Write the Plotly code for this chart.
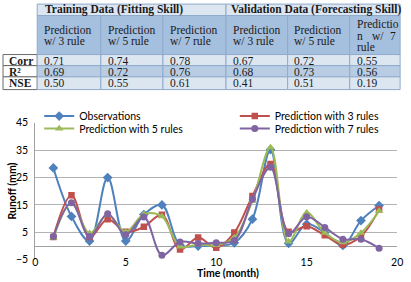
import plotly.graph_objects as go

W, H = 411, 282

# ---------------- data ----------------
months = list(range(1, 20))
observations = [28.5, 10.8, 1.8, 25.0, 1.8, 11.5, 15.0, 0.3, 0.0, 0.2, 1.2, 9.8, 35.2, 1.0, 8.0, 4.9, 0.2, 9.3, 14.8]
pred_3_rules = [3.3, 18.5, 3.3, 9.8, 5.2, 7.0, 11.4, -1.3, 3.1, -0.6, 4.9, 18.3, 30.0, 5.2, 7.2, 3.9, 0.5, 3.6, 13.3]
pred_5_rules = [3.0, 15.6, 4.7, 11.4, 5.2, 11.6, 10.8, -0.2, 0.6, 0.3, 3.0, 16.5, 36.0, 1.6, 12.2, 4.8, 1.3, 4.8, 12.8]
pred_7_rules = [3.5, 15.8, 3.5, 11.8, 4.1, 10.6, -3.4, 1.5, 0.9, 1.2, 2.0, 17.1, 28.8, 4.5, 10.7, 6.8, 2.5, 2.5, -0.8]

series_names = ["Observations", "Prediction with 3 rules", "Prediction with 5 rules", "Prediction with 7 rules"]

# table content
group_titles = ["Training Data (Fitting Skill)", "Validation Data (Forecasting Skill)"]
header_lines = [["Prediction", "w/ 3 rule"], ["Prediction", "w/ 5 rule"], ["Prediction", "w/ 7 rule"],
                ["Prediction", "w/ 3 rule"], ["Prediction", "w/ 5 rule"], None]
row_labels = ["Corr", "R²", "NSE"]
corr_vals = ["0.71", "0.74", "0.78", "0.67", "0.72", "0.55"]
r2_vals = ["0.69", "0.72", "0.76", "0.68", "0.73", "0.56"]
nse_vals = ["0.50", "0.55", "0.61", "0.41", "0.51", "0.19"]
table_rows = [corr_vals, r2_vals, nse_vals]


def px(x):
    return x / W


def py(y):
    return 1 - y / H


fig = go.Figure()

colors = ["#4F81BD", "#C0504D", "#9BBB59", "#8064A2"]
symbols = ["diamond", "square", "triangle-up", "circle"]
sizes = [7.5, 6.5, 7.5, 7]
legend_ids = ["legend", "legend2", "legend3", "legend4"]
for name, vals, c, s, sz, lg in zip(series_names, [observations, pred_3_rules, pred_5_rules, pred_7_rules],
                                    colors, symbols, sizes, legend_ids):
    fig.add_trace(go.Scatter(
        x=months, y=vals, name=name, mode="lines+markers", legend=lg,
        line=dict(color=c, width=2, shape="spline", smoothing=1.0),
        marker=dict(color=c, symbol=s, size=sz, line=dict(width=0)),
    ))

# ---------------- table drawn with shapes ----------------
shapes = []
annotations = []
col_edges = [0, 35, 100, 163.5, 228, 291, 354.5, 406]
row_edges = [-2, 10, 50.7, 62.3, 74, 87.3]
light = "#DCE6F1"
mid = "#B8CCE4"
head = "#A5BFDE"
border = "#8FAACB"


def rect(x0, y0, x1, y1, fill, line="rgba(0,0,0,0)", lw=1):
    shapes.append(dict(type="rect", xref="paper", yref="paper",
                       x0=px(x0), x1=px(x1), y0=py(y1), y1=py(y0),
                       fillcolor=fill, line=dict(color=line, width=lw), layer="below"))


def text(x, y, t, size=11.5, bold=False, anchor="left"):
    annotations.append(dict(xref="paper", yref="paper", x=px(x), y=py(y),
                            xanchor=anchor, yanchor="middle", showarrow=False,
                            borderpad=0,
                            text=("<b>%s</b>" % t) if bold else t,
                            font=dict(family="Liberation Serif", size=size, color="#1a1a1a")))


# title row
rect(col_edges[1], row_edges[0], col_edges[4], row_edges[1], light, border)
rect(col_edges[4], row_edges[0], col_edges[7], row_edges[1], light, border)
text(col_edges[1] + 7, 3.5, group_titles[0], size=11.5, bold=True)
text(col_edges[4] + 4, 3.5, group_titles[1], size=11.5, bold=True)

# header row
for i in range(6):
    rect(col_edges[i + 1], row_edges[1], col_edges[i + 2], row_edges[2], head, border)
    x0 = col_edges[i + 1] + 6
    if header_lines[i] is not None:
        text(x0, 25, header_lines[i][0], size=11.5)
        text(x0, 37, header_lines[i][1], size=11.5)
text(col_edges[6] + 6, 18.5, "Predictio", size=11.5)
text(col_edges[6] + 6, 31, "n", size=11.5)
text(col_edges[6] + 22, 31, "w/", size=11.5)
text(col_edges[6] + 40, 31, "7", size=11.5)
text(col_edges[6] + 6, 43, "rule", size=11.5)

# data rows
row_fills = [light, mid, light]
row_text_y = [57, 68.5, 80.5]
for r in range(3):
    rect(col_edges[0], row_edges[r + 2], col_edges[1], row_edges[r + 3], "white", "#6b6b6b")
    text(5, row_text_y[r], row_labels[r], size=11.5, bold=True)
    for i in range(6):
        rect(col_edges[i + 1], row_edges[r + 2], col_edges[i + 2], row_edges[r + 3], row_fills[r], border)
        text(col_edges[i + 1] + 6, row_text_y[r], table_rows[r][i], size=11.5)

# axis titles
annotations.append(dict(xref="paper", yref="paper", x=px(9.5), y=py(193.5), xanchor="center",
                        yanchor="middle", showarrow=False, textangle=-90,
                        text="<b>Runoff (mm)</b>", font=dict(family="Lato", size=10.5, color="#000")))
annotations.append(dict(xref="paper", yref="paper", x=px(230), y=py(279), xanchor="center",
                        yanchor="middle", showarrow=False, borderpad=0,
                        text="<b>Time (month)</b>", font=dict(family="Lato", size=10.5, color="#000")))

leg_common = dict(orientation="v", xanchor="left", yanchor="middle", itemwidth=30,
                  font=dict(family="Lato", size=10.5, color="#000"), bgcolor="rgba(0,0,0,0)")

fig.update_layout(
    width=W, height=H,
    margin=dict(l=0, r=0, t=0, b=0),
    paper_bgcolor="white", plot_bgcolor="white",
    shapes=shapes, annotations=annotations,
    showlegend=True,
    legend=dict(x=px(37), y=py(115), **leg_common),
    legend2=dict(x=px(237), y=py(115), **leg_common),
    legend3=dict(x=px(37), y=py(128), **leg_common),
    legend4=dict(x=px(237), y=py(128), **leg_common),
    xaxis=dict(domain=[px(33), px(403)], range=[0, 20], tick0=0, dtick=5,
               showgrid=False, zeroline=False, showline=False, ticks="",
               ticklabelstandoff=-5,
               tickfont=dict(family="Lato", size=10.5, color="#000")),
    yaxis=dict(domain=[py(265), py(122)], range=[-5, 45], tick0=-5, dtick=10,
               showgrid=True, gridcolor="#B3B3B3", gridwidth=1,
               zeroline=True, zerolinecolor="#A0A0A0", zerolinewidth=1,
               showline=True, linecolor="#A0A0A0", linewidth=1, ticks="",
               ticklabelstandoff=4,
               tickfont=dict(family="Lato", size=10.5, color="#000")),
)

fig.write_html("out.html")
